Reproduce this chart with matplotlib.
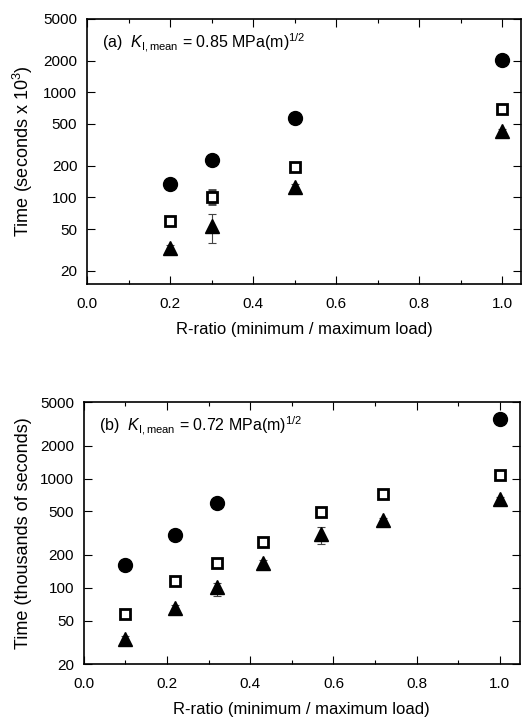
import numpy as np
import matplotlib
matplotlib.use('Agg')
import matplotlib.pyplot as plt
from matplotlib.ticker import FixedLocator, MultipleLocator, NullLocator, FixedFormatter

plt.rcParams['font.family'] = ['Liberation Sans', 'DejaVu Sans']
plt.rcParams['mathtext.fontset'] = 'custom'
plt.rcParams['mathtext.rm'] = 'Liberation Sans'
plt.rcParams['mathtext.it'] = 'Liberation Sans:italic'

# panel (a): K_I,mean = 0.85
a_circ_x = [0.2, 0.3, 0.5, 1.0]
a_circ_y = [135, 227, 570, 2050]
a_circ_err = [8, 20, 30, 150]
a_sq_x = [0.2, 0.3, 0.5, 1.0]
a_sq_y = [60, 102, 196, 700]
a_sq_err = [4, 15, 10, 40]
a_tri_x = [0.2, 0.3, 0.5, 1.0]
a_tri_y = [33, 54, 125, 431]
a_tri_lo = [2, 17, 8, 20]
a_tri_hi = [2, 15, 8, 20]

# panel (b): K_I,mean = 0.72
b_circ_x = [0.1, 0.22, 0.32, 1.0]
b_circ_y = [161, 301, 600, 3490]
b_circ_err = [15, 15, 30, 150]
b_sq_x = [0.1, 0.22, 0.32, 0.43, 0.57, 0.72, 1.0]
b_sq_y = [58, 115, 169, 260, 490, 720, 1075]
b_sq_err = [4, 8, 12, 15, 40, 30, 50]
b_tri_x = [0.1, 0.22, 0.32, 0.43, 0.57, 0.72, 1.0]
b_tri_y = [34, 65, 101, 169, 310, 419, 644]
b_tri_lo = [2, 4, 17, 22, 59, 20, 30]
b_tri_hi = [2, 4, 10, 12, 47, 20, 30]

yticks = [20, 50, 100, 200, 500, 1000, 2000, 5000]
xlabel = 'R-ratio (minimum / maximum load)'

fig = plt.figure(figsize=(5.24, 7.23), dpi=100)
ax1 = fig.add_axes([0.166, 0.607, 0.828, 0.367])
ax2 = fig.add_axes([0.160, 0.0816, 0.832, 0.362])

def draw(ax, cx, cy, ce, sx, sy, se, tx, ty, tlo, thi):
  ekw = dict(ecolor='#444444', elinewidth=0.8, capsize=3, capthick=0.8, linestyle='none')
  ax.errorbar(cx, cy, yerr=ce, marker='o', ms=10, mfc='black', mec='black', **ekw)
  ax.errorbar(sx, sy, yerr=se, marker='s', ms=7.5, mfc='white', mec='black', mew=2, **ekw)
  ax.errorbar(tx, ty, yerr=[tlo, thi], marker='^', ms=9.5, mfc='black', mec='black', **ekw)
  ax.set_yscale('log')
  ax.yaxis.set_major_locator(FixedLocator(yticks))
  ax.yaxis.set_major_formatter(FixedFormatter([str(v) for v in yticks]))
  ax.yaxis.set_minor_locator(NullLocator())
  ax.xaxis.set_major_locator(MultipleLocator(0.2))
  ax.xaxis.set_minor_locator(MultipleLocator(0.1))
  ax.xaxis.set_major_formatter(matplotlib.ticker.FormatStrFormatter('%.1f'))
  ax.tick_params(which='both', direction='in', top=True, right=True, labelsize=11)
  ax.tick_params(axis='x', pad=9)
  ax.tick_params(axis='y', pad=7)
  ax.tick_params(which='major', length=6, width=0.8)
  ax.tick_params(which='minor', length=3, width=0.8)
  for s in ax.spines.values():
    s.set_linewidth(1.2)
  ax.set_xlabel(xlabel, fontsize=12, labelpad=8)

draw(ax1, a_circ_x, a_circ_y, a_circ_err, a_sq_x, a_sq_y, a_sq_err, a_tri_x, a_tri_y, a_tri_lo, a_tri_hi)
ax1.set_xlim(0, 1.045)
ax1.set_ylim(15, 5000)
ax1.set_ylabel('Time (seconds x 10$^3$)', fontsize=13, labelpad=6)
ax1.text(0.035, 0.91, '(a)  $K_{\\mathrm{I,mean}}$ = 0.85 MPa(m)$^{1/2}$', transform=ax1.transAxes, fontsize=11.5, va='center')

draw(ax2, b_circ_x, b_circ_y, b_circ_err, b_sq_x, b_sq_y, b_sq_err, b_tri_x, b_tri_y, b_tri_lo, b_tri_hi)
ax2.set_xlim(0, 1.048)
ax2.set_ylim(20, 5000)
ax2.set_ylabel('Time (thousands of seconds)', fontsize=13, labelpad=6)
ax2.text(0.035, 0.91, '(b)  $K_{\\mathrm{I,mean}}$ = 0.72 MPa(m)$^{1/2}$', transform=ax2.transAxes, fontsize=11.5, va='center')

plt.savefig('out.png', dpi=100)
